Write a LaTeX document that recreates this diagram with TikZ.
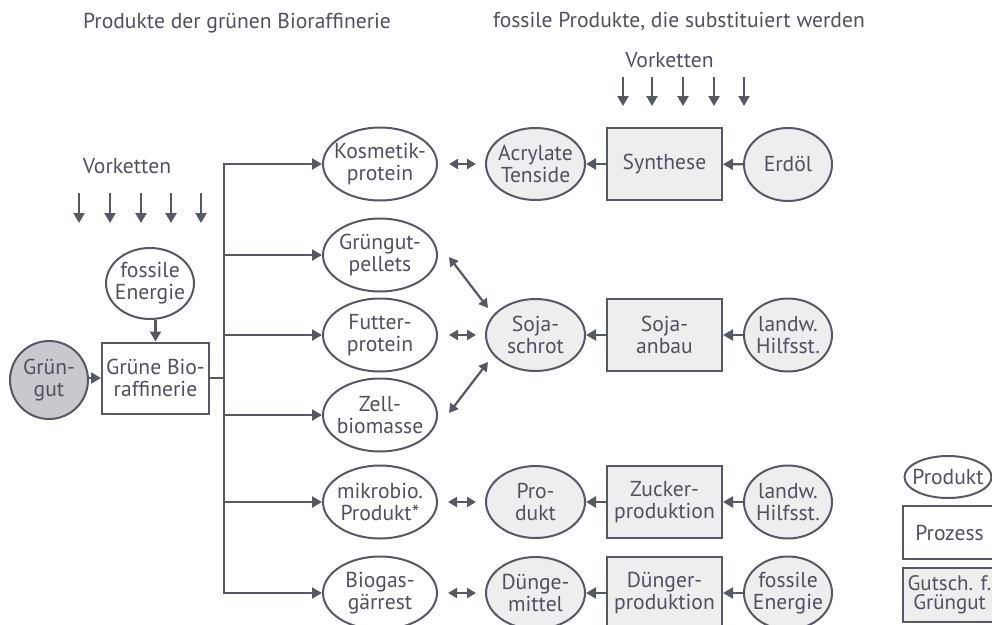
\documentclass[tikz,border=0pt]{standalone}
\usepackage{fontspec}
\setmainfont{PT Sans}
\usetikzlibrary{arrows.meta,shapes.geometric}
\definecolor{ink}{RGB}{85,89,100}
\definecolor{txt}{RGB}{78,82,94}
\definecolor{fossil}{RGB}{238,238,238}
\definecolor{gruenfill}{RGB}{200,200,205}
\begin{document}
\begin{tikzpicture}[x=1pt,y=-1pt,
  every node/.style={text=txt, font=\fontsize{21.6}{22}\selectfont, align=center, inner sep=0pt},
  ell/.style={ellipse, draw=ink, line width=2pt, inner xsep=-14pt, inner ysep=-12pt},
  prod/.style={ell, fill=white, minimum width=114pt, minimum height=73pt},
  fprod/.style={ell, fill=fossil, minimum width=99pt, minimum height=72pt},
  src/.style={ell, fill=fossil, minimum width=88pt, minimum height=73pt},
  proc/.style={rectangle, draw=ink, line width=2pt, fill=fossil, minimum width=115pt, minimum height=72pt},
  ln/.style={draw=ink, line width=2.4pt, line cap=rect},
  conn/.style={draw=ink, line width=2.2pt, -{Triangle[length=10pt,width=11pt]}},
  dbl/.style={draw=ink, line width=2.2pt, {Triangle[length=9pt,width=10pt]}-{Triangle[length=9pt,width=10pt]}},
  title/.style={font=\fontsize{21.6}{22}\selectfont, anchor=base}
]
\useasboundingbox (0,0) rectangle (992,624);
\clip (0,0) rectangle (992,624);

% titles
\node[title] (t1) at (237,28) {Produkte der grünen Bioraffinerie};
\node[title] (t2) at (679,27) {fossile Produkte, die substituiert werden};
\node[title] (vk1) at (127,173) {Vorketten};
\node[title] (vk2) at (669.5,67) {Vorketten};

% Vorketten arrows
\foreach \x [count=\i] in {79,110,141,171,201} {
  \coordinate (la\i) at (\x,193); \coordinate (lb\i) at (\x,223);
  \draw[conn] (la\i) -- (lb\i);
}
\foreach \x [count=\i] in {623,652,683,714,744} {
  \coordinate (ra\i) at (\x,77); \coordinate (rb\i) at (\x,106);
  \draw[conn] (ra\i) -- (rb\i);
}

% left part
\node[ell, fill=gruenfill, minimum width=78pt, minimum height=78pt] (gg) at (49,380) {Grün-\\gut};
\node[rectangle, draw=ink, line width=2pt, fill=white, minimum width=107pt, minimum height=71pt] (bio) at (155.5,378) {Grüne Bio-\\raffinerie};
\node[ell, fill=white, minimum width=88pt, minimum height=71pt] (fe) at (150,283.5) {fossile\\Energie};

\draw[conn] (gg.east |- bio.west) -- (bio.west);
\draw[conn] (bio.north |- fe.south) -- (bio.north);

% products of green biorefinery
\node[prod] (kos) at (380,164) {Kosmetik-\\protein};
\node[prod] (pel) at (380,255) {Grüngut-\\pellets};
\node[prod] (fut) at (380,335) {Futter-\\protein};
\node[prod] (zel) at (380,415) {Zell-\\biomasse};
\node[prod] (mik) at (380,502) {mikrobio.\\Produkt*};
\node[prod] (gae) at (380,593) {Biogas-\\gärrest};

% trunk
\coordinate (tTop) at (224,164);
\coordinate (tBot) at (224,593);
\draw[ln] (bio.east) -- (bio.east -| tTop);
\draw[ln] (tTop) -- (tBot);
\draw[conn] (tTop) -- (kos.west);
\draw[conn] (tTop |- pel) -- (pel.west);
\draw[conn] (tTop |- fut) -- (fut.west);
\draw[conn] (tTop |- zel) -- (zel.west);
\draw[conn] (tTop |- mik) -- (mik.west);
\draw[conn] (tBot) -- (gae.west);

% fossil products
\node[fprod] (acr) at (535.5,164) {Acrylate\\Tenside};
\node[fprod] (soj) at (535.5,335) {Soja-\\schrot};
\node[fprod] (pro) at (535.5,502) {Pro-\\dukt};
\node[fprod] (dun) at (535.5,593) {Dünge-\\mittel};

% processes
\node[proc] (syn) at (664.5,164) {Synthese};
\node[proc] (sab) at (664.5,335) {Soja-\\anbau};
\node[proc] (zuc) at (664.5,502) {Zucker-\\produktion};
\node[proc] (dpr) at (664.5,593) {Dünger-\\produktion};

% sources
\node[src] (erd) at (788,164.5) {Erdöl};
\node[src] (lh1) at (788,335) {landw.\\Hilfsst.};
\node[src] (lh2) at (788,502) {landw.\\Hilfsst.};
\node[src] (fe2) at (788,593) {fossile\\Energie};

\draw[conn] (syn) -- (acr);
\draw[conn] (sab) -- (soj);
\draw[conn] (zuc) -- (pro);
\draw[conn] (dpr) -- (dun);
\draw[conn] (erd) -- (syn);
\draw[conn] (lh1) -- (sab);
\draw[conn] (lh2) -- (zuc);
\draw[conn] (fe2) -- (dpr);

% substitution arrows
\draw[dbl, shorten <=11pt, shorten >=9pt] (kos) -- (acr);
\draw[dbl, shorten <=11pt, shorten >=9pt] (fut) -- (soj);
\draw[dbl, shorten <=10pt, shorten >=9pt] (mik) -- (pro);
\draw[dbl, shorten <=10pt, shorten >=9pt] (gae) -- (dun);
\draw[dbl] ([shift={(11,2)}]pel.east) -- ([shift={(-47.5,-27)}]soj.center);
\draw[dbl] ([shift={(11,-2)}]zel.east) -- ([shift={(-47.5,27)}]soj.center);

% legend
\node[ell, minimum width=87pt, minimum height=42pt] (lgp) at (948,477) {Produkt};
\node[rectangle, draw=ink, line width=2pt, minimum width=93pt, minimum height=53pt] (lgr) at (949.5,532.5) {Prozess};
\node[rectangle, draw=ink, line width=2pt, fill=fossil, minimum width=93pt, minimum height=54pt, font=\fontsize{21}{19}\selectfont] (lgg) at (949.5,595) {Gutsch. f.\\Grüngut};
\end{tikzpicture}
\end{document}
